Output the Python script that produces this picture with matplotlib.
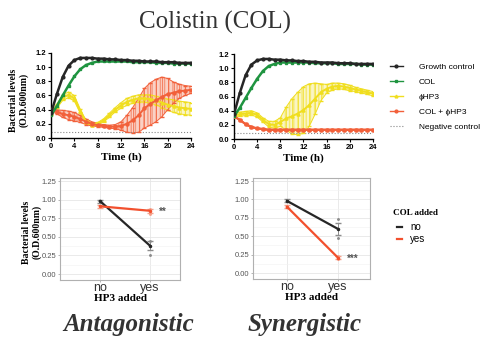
import numpy as np
import matplotlib
matplotlib.use("Agg")
import matplotlib.pyplot as plt
from matplotlib.lines import Line2D

# ---- time-course data (hourly) ----
hours = list(range(25))

# Antagonistic panel (left)
growth_a = [0.35, 0.62, 0.86, 1.02, 1.10, 1.13, 1.13, 1.13, 1.12, 1.12, 1.11, 1.11, 1.10,
            1.10, 1.09, 1.09, 1.08, 1.08, 1.08, 1.07, 1.07, 1.07, 1.06, 1.06, 1.06]
col_a = [0.32, 0.45, 0.60, 0.74, 0.87, 0.97, 1.03, 1.06, 1.08, 1.08, 1.08, 1.08, 1.08,
         1.08, 1.07, 1.07, 1.07, 1.07, 1.06, 1.06, 1.06, 1.05, 1.05, 1.05, 1.05]
phage_a = [0.35, 0.45, 0.57, 0.61, 0.56, 0.38, 0.23, 0.19, 0.20, 0.25, 0.32, 0.40, 0.46,
           0.51, 0.54, 0.56, 0.56, 0.55, 0.53, 0.50, 0.47, 0.45, 0.43, 0.42, 0.41]
phage_a_sd = [0.02, 0.03, 0.04, 0.04, 0.04, 0.03, 0.02, 0.02, 0.02, 0.02, 0.03, 0.03, 0.04,
              0.05, 0.05, 0.05, 0.05, 0.06, 0.06, 0.07, 0.08, 0.09, 0.09, 0.09, 0.09]
combo_a = [0.40, 0.37, 0.34, 0.32, 0.30, 0.27, 0.23, 0.20, 0.18, 0.17, 0.16, 0.16, 0.17,
           0.20, 0.25, 0.32, 0.42, 0.48, 0.53, 0.58, 0.62, 0.64, 0.66, 0.67, 0.68]
combo_a_sd = [0.02, 0.03, 0.05, 0.06, 0.06, 0.05, 0.04, 0.03, 0.02, 0.02, 0.02, 0.03, 0.06,
              0.12, 0.18, 0.24, 0.28, 0.30, 0.30, 0.28, 0.22, 0.15, 0.10, 0.07, 0.05]

# Synergistic panel (right)
growth_s = [0.35, 0.65, 0.90, 1.05, 1.11, 1.13, 1.13, 1.12, 1.12, 1.11, 1.11, 1.10, 1.10,
            1.09, 1.09, 1.08, 1.08, 1.08, 1.07, 1.07, 1.07, 1.06, 1.06, 1.06, 1.06]
col_s = [0.32, 0.44, 0.58, 0.72, 0.85, 0.96, 1.03, 1.06, 1.08, 1.08, 1.08, 1.08, 1.08,
         1.08, 1.07, 1.07, 1.07, 1.07, 1.06, 1.06, 1.06, 1.06, 1.05, 1.05, 1.05]
phage_s = [0.33, 0.35, 0.36, 0.37, 0.34, 0.27, 0.21, 0.20, 0.24, 0.29, 0.32, 0.36, 0.41,
           0.48, 0.57, 0.66, 0.71, 0.74, 0.75, 0.74, 0.72, 0.70, 0.68, 0.66, 0.64]
phage_s_sd = [0.02, 0.03, 0.03, 0.03, 0.03, 0.03, 0.04, 0.05, 0.06, 0.16, 0.25, 0.30, 0.33,
              0.30, 0.22, 0.12, 0.06, 0.05, 0.04, 0.04, 0.04, 0.03, 0.03, 0.03, 0.03]
combo_s = [0.32, 0.27, 0.21, 0.17, 0.15, 0.14, 0.13, 0.13, 0.13, 0.13, 0.13, 0.13, 0.13,
           0.13, 0.13, 0.13, 0.13, 0.13, 0.13, 0.13, 0.13, 0.13, 0.13, 0.13, 0.13]
combo_s_sd = [0.01, 0.01, 0.01, 0.01, 0.01, 0.01, 0.01, 0.01, 0.01, 0.01, 0.01, 0.01, 0.01,
              0.01, 0.01, 0.01, 0.01, 0.01, 0.01, 0.01, 0.01, 0.01, 0.01, 0.01, 0.01]

negative = [0.09] * 25

# ---- interaction data ----
hp3_levels = ["no", "yes"]
col_groups = ["no", "yes"]
antag_mean = {"no": [0.98, 0.38], "yes": [0.91, 0.85]}
antag_err = {"no": [0.02, 0.06], "yes": [0.02, 0.03]}
syn_mean = {"no": [0.98, 0.60], "yes": [0.90, 0.21]}
syn_err = {"no": [0.02, 0.08], "yes": [0.02, 0.02]}
antag_dots = {"no": [0.25, 0.45], "yes": [0.81, 0.88]}
syn_dots = {"no": [0.73, 0.47], "yes": [0.19, 0.23]}

BLACK = "#262626"
GREEN = "#1f9440"
YELLOW = "#f0de1e"
YELLOW_L = "#f6ec8c"
ORANGE = "#f2603a"
ORANGE_L = "#f7a48c"
RED = "#f2502e"

SERIF = "Liberation Serif"
SANS = "Liberation Sans"

fig = plt.figure(figsize=(4.92, 3.41), dpi=100)


def time_panel(rect, growth, col, phage, phage_sd, combo, combo_sd):
    ax = fig.add_axes(rect)
    t = np.array(hours)
    for m, s, c, cl, mk in [(phage, phage_sd, YELLOW, YELLOW_L, "^"),
                            (combo, combo_sd, ORANGE, ORANGE_L, "o")]:
        m = np.array(m)
        s = np.array(s)
        ax.fill_between(t, m - s, m + s, color=cl, alpha=0.5, lw=0, hatch="||||",
                        edgecolor=c)
        ax.plot(t, m + s, color=c, lw=0.7)
        ax.plot(t, m - s, color=c, lw=0.7)
        ax.errorbar(t, m, yerr=s, color=c, lw=1.4, elinewidth=0.5, capsize=1.2,
                    marker=mk, ms=2.2, zorder=3)
    ax.plot(t, negative, color="#888888", ls=":", lw=0.8, zorder=2)
    ax.plot(t, col, color=GREEN, lw=1.8, marker="s", ms=2, zorder=4)
    ax.plot(t, growth, color=BLACK, lw=1.8, marker="o", ms=2, zorder=5)
    ax.set_xlim(0, 24)
    ax.set_ylim(0, 1.2)
    ax.set_xticks(range(0, 25, 4))
    ax.set_yticks(np.arange(0, 1.21, 0.2))
    ax.set_yticklabels([f"{v:.1f}" for v in np.arange(0, 1.21, 0.2)])
    for sp in ["top", "right"]:
        ax.spines[sp].set_visible(False)
    for sp in ["left", "bottom"]:
        ax.spines[sp].set_linewidth(1.0)
    ax.tick_params(length=2.5, width=0.8, labelsize=5.5, pad=1)
    for lab in ax.get_xticklabels() + ax.get_yticklabels():
        lab.set_fontfamily(SANS)
        lab.set_fontweight("bold")
    ax.set_xlabel("Time (h)", fontfamily=SERIF, fontweight="bold", fontsize=8, labelpad=2)
    return ax


def interaction_panel(rect, means, errs, dots, xlim, star, star_y):
    ax = fig.add_axes(rect)
    x = np.array([1, 2])
    ax.set_facecolor("white")
    ax.set_yticks(np.arange(0, 1.26, 0.25))
    ax.set_yticks(np.arange(0.125, 1.26, 0.25), minor=True)
    ax.grid(True, which="major", color="#e6e6e6", lw=0.6)
    ax.grid(True, which="minor", color="#f2f2f2", lw=0.4)
    ax.set_axisbelow(True)
    for g, c, ec in [("no", BLACK, "#8c8c8c"), ("yes", RED, "#f5a08a")]:
        ax.errorbar(x, means[g], yerr=errs[g], fmt="none", ecolor=ec, elinewidth=0.7,
                    capsize=2, zorder=2)
        ax.plot(x, means[g], color=c, lw=1.6, marker="o", ms=1.5, zorder=3)
        ax.scatter([2] * len(dots[g]), dots[g], s=1.2, color=ec, zorder=2)
    ax.text(2.18, star_y, star, fontsize=7, color="#555555", va="center", ha="left",
            fontfamily=SANS, fontweight="bold")
    ax.set_xlim(*xlim)
    ax.set_ylim(-0.08, 1.29)
    ax.set_xticks(x)
    ax.set_xticklabels(hp3_levels, fontfamily=SANS, fontsize=9, color="#333333")
    ax.set_yticklabels([f"{v:.2f}" for v in np.arange(0, 1.26, 0.25)],
                       fontfamily=SANS, fontsize=5.5, color="#555555")
    ax.tick_params(length=1.5, width=0.5, color="#999999", pad=1)
    ax.tick_params(axis="x", pad=0)
    ax.tick_params(which="minor", length=0)
    for sp in ax.spines.values():
        sp.set_color("#b0b0b0")
        sp.set_linewidth(0.8)
    ax.set_xlabel("HP3 added", fontfamily=SERIF, fontweight="bold", fontsize=8, labelpad=0)
    return ax


time_panel([0.1037, 0.5953, 0.2846, 0.2493], growth_a, col_a, phage_a, phage_a_sd,
           combo_a, combo_a_sd)
time_panel([0.4756, 0.5923, 0.2825, 0.2493], growth_s, col_s, phage_s, phage_s_sd,
           combo_s, combo_s_sd)

interaction_panel([0.122, 0.1789, 0.244, 0.299], antag_mean, antag_err, antag_dots,
                  (0.2, 2.6), "**", 0.84)
interaction_panel([0.514, 0.1818, 0.238, 0.296], syn_mean, syn_err, syn_dots,
                  (0.33, 2.63), "***", 0.20)

# titles and shared labels
fig.text(0.437, 0.935, "Colistin (COL)", fontfamily=SERIF, fontsize=18, color="#333333",
         ha="center", va="center")
fig.text(0.038, 0.707, "Bacterial levels\n(O.D.600nm)", fontfamily=SERIF, fontweight="bold",
         fontsize=7, rotation=90, ha="center", va="center", linespacing=1.1)
fig.text(0.065, 0.32, "Bacterial levels\n(O.D.600nm)", fontfamily=SERIF, fontweight="bold",
         fontsize=7, rotation=90, ha="center", va="center", linespacing=1.1)
fig.text(0.262, 0.047, "Antagonistic", fontfamily=SERIF, fontweight="bold", style="italic",
         fontsize=18, color="#333333", ha="center", va="center")
fig.text(0.62, 0.047, "Synergistic", fontfamily=SERIF, fontweight="bold", style="italic",
         fontsize=18, color="#333333", ha="center", va="center")

# time-course legend
handles = [
    Line2D([], [], color=BLACK, marker="o", ms=2, lw=1),
    Line2D([], [], color=GREEN, marker="s", ms=2, lw=1),
    Line2D([], [], color=YELLOW, marker="^", ms=2, lw=1),
    Line2D([], [], color=ORANGE, marker="o", ms=2, lw=1),
    Line2D([], [], color="#888888", ls=":", lw=0.8),
]
labels = ["Growth control", "COL", "\u03d5HP3", "COL + \u03d5HP3", "Negative control"]
fig.legend(handles, labels, loc="upper left", bbox_to_anchor=(0.785, 0.825), frameon=False,
           prop={"family": SANS, "size": 6}, handlelength=1.6, labelspacing=0.85,
           handletextpad=1.9, borderaxespad=0)

# COL added legend
fig.text(0.799, 0.375, "COL added", fontfamily=SERIF, fontweight="bold", fontsize=6.5,
         ha="left", va="center")
h2 = [Line2D([], [], color=BLACK, lw=1.6), Line2D([], [], color=RED, lw=1.6)]
fig.legend(h2, col_groups, loc="upper left", bbox_to_anchor=(0.8, 0.36), frameon=False,
           prop={"family": SANS, "size": 7}, handlelength=0.5, labelspacing=0.2,
           handletextpad=0.8, borderaxespad=0)

fig.savefig("out.png", dpi=100)
